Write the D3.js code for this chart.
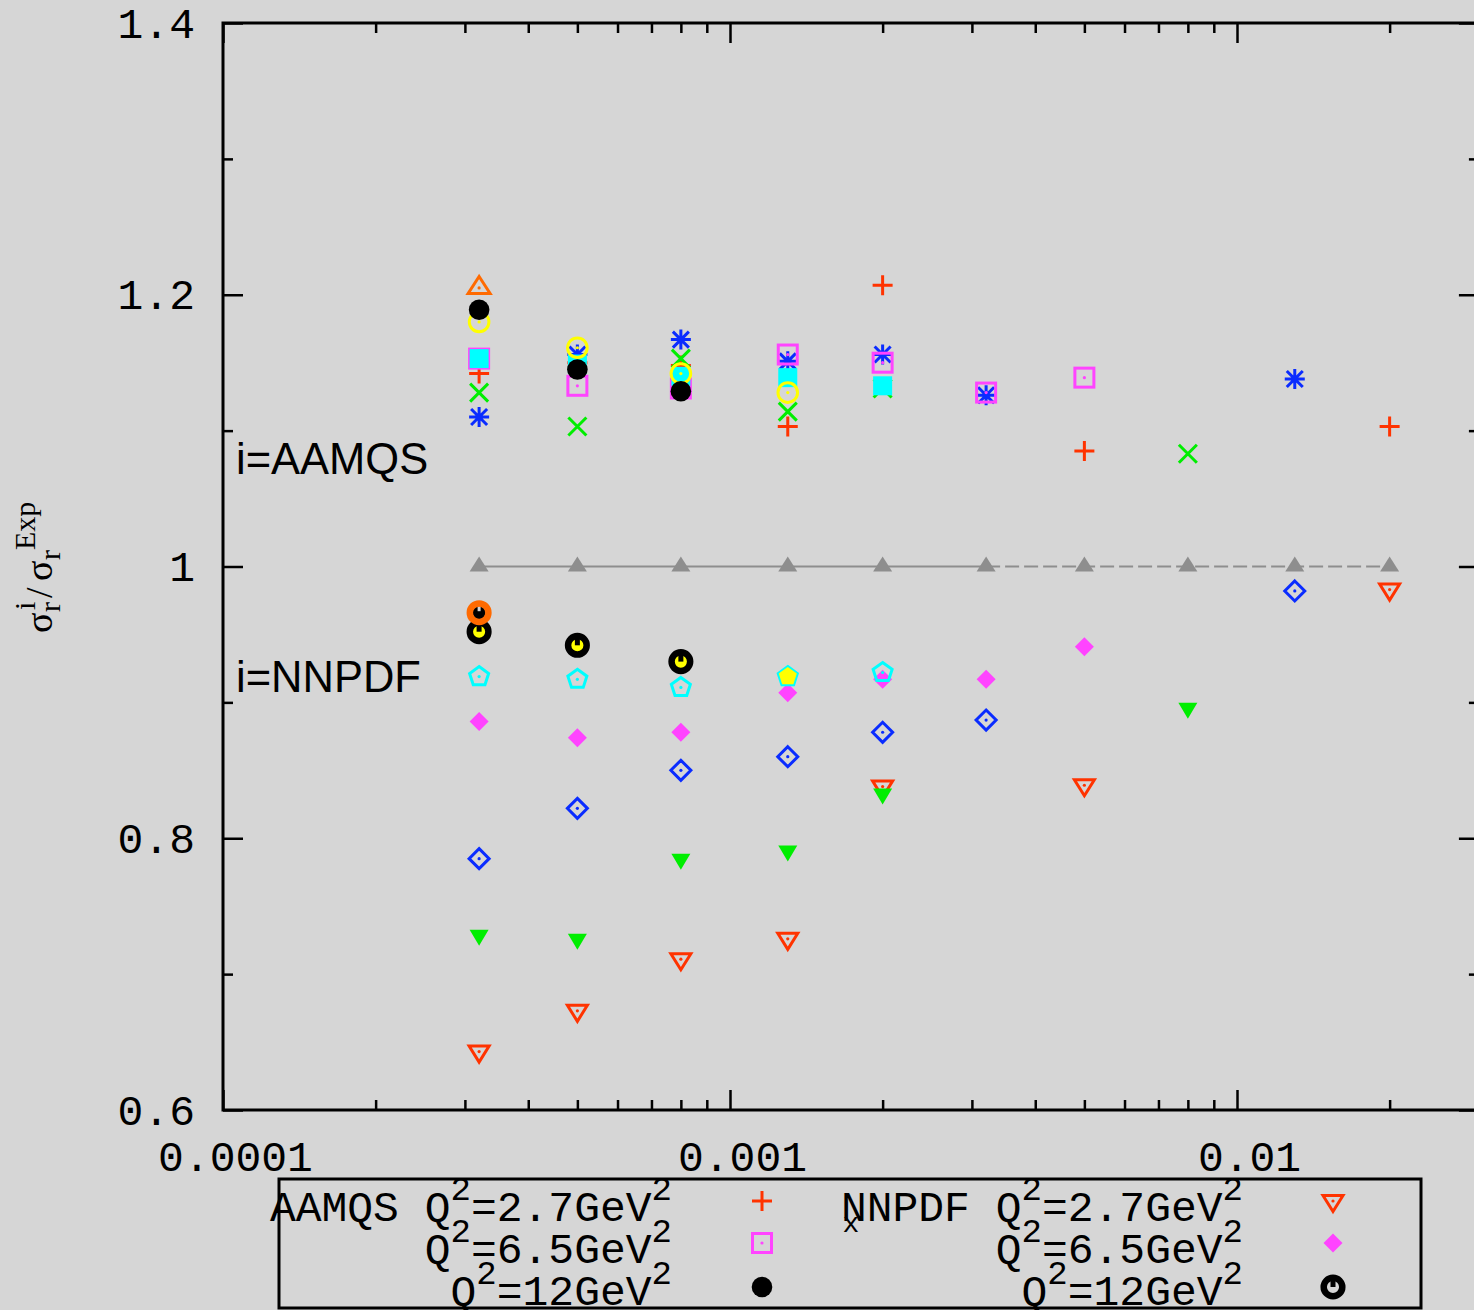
<!DOCTYPE html>
<html><head><meta charset="utf-8">
<script src="https://cdn.jsdelivr.net/npm/d3@7"></script>
<style>html,body{margin:0;padding:0;background:#d6d6d6;}svg{display:block;}</style>
</head><body>
<svg id="chart" width="1474" height="1310"></svg>
<script>
// ---------- data ----------
const xTickLabels = ["0.0001", "0.001", "0.01"];
const xMajorTicks = [0.0001, 0.001, 0.01];
const yTickLabels = ["0.6", "0.8", "1", "1.2", "1.4"];
const yMajorTicks = [0.6, 0.8, 1.0, 1.2, 1.4];
const yMinorTicks = [0.7, 0.9, 1.1, 1.3];

// AAMQS / Exp  (x, ratio)
const aamqsQ2_2p7 = [[0.00032,1.142],[0.0005,1.150],[0.0008,1.148],[0.0013,1.103],[0.002,1.207],[0.005,1.085],[0.02,1.103]];
const aamqsQ2_3p5 = [[0.00032,1.128],[0.0005,1.103],[0.0008,1.153],[0.0013,1.114],[0.002,1.131],[0.008,1.083]];
const aamqsQ2_4p5 = [[0.00032,1.110],[0.0005,1.156],[0.0008,1.167],[0.0013,1.151],[0.002,1.156],[0.0032,1.126],[0.013,1.138]];
const aamqsQ2_6p5 = [[0.00032,1.153],[0.0005,1.133],[0.0008,1.131],[0.0013,1.156],[0.002,1.150],[0.0032,1.128],[0.005,1.139]];
const aamqsQ2_8p5 = [[0.00032,1.153],[0.0005,1.149],[0.0008,1.140],[0.0013,1.139],[0.002,1.133]];
const aamqsQ2_10  = [[0.00032,1.180],[0.0005,1.161],[0.0008,1.142],[0.0013,1.128]];
const aamqsQ2_12  = [[0.00032,1.189],[0.0005,1.145],[0.0008,1.129]];
const aamqsQ2_15  = [[0.00032,1.205]];

// Exp / Exp reference line
const expRef = [[0.00032,1],[0.0005,1],[0.0008,1],[0.0013,1],[0.002,1],[0.0032,1],[0.005,1],[0.008,1],[0.013,1],[0.02,1]];

// NNPDF / Exp
const nnpdfQ2_2p7 = [[0.00032,0.643],[0.0005,0.673],[0.0008,0.711],[0.0013,0.726],[0.002,0.838],[0.005,0.839],[0.02,0.983]];
const nnpdfQ2_3p5 = [[0.00032,0.729],[0.0005,0.726],[0.0008,0.785],[0.0013,0.791],[0.002,0.833],[0.008,0.896]];
const nnpdfQ2_4p5 = [[0.00032,0.785],[0.0005,0.822],[0.0008,0.850],[0.0013,0.860],[0.002,0.878],[0.0032,0.887],[0.013,0.982]];
const nnpdfQ2_6p5 = [[0.00032,0.886],[0.0005,0.874],[0.0008,0.878],[0.0013,0.907],[0.002,0.917],[0.0032,0.917],[0.005,0.941]];
const nnpdfQ2_8p5 = [[0.00032,0.919],[0.0005,0.917],[0.0008,0.911],[0.0013,0.919],[0.002,0.922]];
const nnpdfQ2_10  = [[0.00032,0.952],[0.0005,0.942],[0.0008,0.930],[0.0013,0.919]];
const nnpdfQ2_12  = [[0.00032,0.952],[0.0005,0.942],[0.0008,0.930]];
const nnpdfQ2_15  = [[0.00032,0.966]];

const legendModels = ["AAMQS", "NNPDF"];
const legendQ2 = ["2.7", "6.5", "12"];

// ---------- styling ----------
const C = {red:"#ff3300", green:"#00ee00", blue:"#0a2cff", magenta:"#ff44ff", cyan:"#00ffff",
           yellow:"#ffff00", black:"#000000", orange:"#ff6a00", gray:"#8e8e8e"};

const svg = d3.select("#chart");
svg.append("rect").attr("width",1474).attr("height",1310).attr("fill","#d6d6d6");

const X0 = 223, Y0 = 23, Y1 = 1110;
const decade = 507;
const x = d3.scaleLog().domain([1e-4, 0.03]).range([X0, X0 + decade*Math.log10(300)]);
const y = d3.scaleLinear().domain([0.6, 1.4]).range([Y1, Y0]);
const XR = x.range()[1];

const monoFont = "'Liberation Mono', 'Courier New', monospace";

// minor x ticks
const xMinorTicks = [];
[1e-4,1e-3,1e-2].forEach(d => { for (let k=2;k<=9;k++){ const v=d*k; if (v<=0.03) xMinorTicks.push(v);} });

function styleAxis(g){
  g.select(".domain").remove();
  g.selectAll(".tick line").attr("stroke","#000").attr("stroke-width",2.5);
  g.selectAll(".tick text").attr("font-family",monoFont).attr("font-size",43).attr("fill","#000");
}
// left
svg.append("g").attr("transform",`translate(${X0},0)`)
  .call(d3.axisLeft(y).tickValues(yMajorTicks).tickSizeInner(-20).tickSizeOuter(0).tickPadding(28)
        .tickFormat((d,i)=>yTickLabels[i])).call(styleAxis)
  .selectAll(".tick text").attr("dy","0.33em");
svg.append("g").attr("transform",`translate(${X0},0)`)
  .call(d3.axisLeft(y).tickValues(yMinorTicks).tickSizeInner(-10).tickSizeOuter(0).tickFormat("")).call(styleAxis);
// right
svg.append("g").attr("transform",`translate(${XR},0)`)
  .call(d3.axisRight(y).tickValues(yMajorTicks).tickSizeInner(-20).tickSizeOuter(0).tickFormat("")).call(styleAxis);
svg.append("g").attr("transform",`translate(${XR},0)`)
  .call(d3.axisRight(y).tickValues(yMinorTicks).tickSizeInner(-10).tickSizeOuter(0).tickFormat("")).call(styleAxis);
// bottom
svg.append("g").attr("transform",`translate(0,${Y1})`)
  .call(d3.axisBottom(x).tickValues(xMajorTicks).tickSizeInner(-20).tickSizeOuter(0).tickPadding(30)
        .tickFormat((d,i)=>xTickLabels[i])).call(styleAxis)
  .selectAll(".tick text").attr("dx",12);
svg.append("g").attr("transform",`translate(0,${Y1})`)
  .call(d3.axisBottom(x).tickValues(xMinorTicks).tickSizeInner(-10).tickSizeOuter(0).tickFormat("")).call(styleAxis);
// top
svg.append("g").attr("transform",`translate(0,${Y0})`)
  .call(d3.axisTop(x).tickValues(xMajorTicks).tickSizeInner(-20).tickSizeOuter(0).tickFormat("")).call(styleAxis);
svg.append("g").attr("transform",`translate(0,${Y0})`)
  .call(d3.axisTop(x).tickValues(xMinorTicks).tickSizeInner(-10).tickSizeOuter(0).tickFormat("")).call(styleAxis);

// frame
svg.append("rect").attr("x",X0).attr("y",Y0).attr("width",XR-X0).attr("height",Y1-Y0)
  .attr("fill","none").attr("stroke","#000").attr("stroke-width",3);

// ---------- markers ----------
function pent(r){ return d3.range(5).map(k=>{const a=(-90+72*k)*Math.PI/180; return [r*Math.cos(a), r*Math.sin(a)];}); }
function poly(g, pts){ return g.append("polygon").attr("points", pts.map(p=>p.join(",")).join(" ")); }
function dot(g,color){ g.append("circle").attr("r",1.6).attr("fill",color); }
function marker(g, type, color){
  const sw = 3;
  const stroke = s => s.attr("fill","none").attr("stroke",color).attr("stroke-width",sw);
  switch(type){
    case "plus": stroke(g.append("path").attr("d","M-10,0H10M0,-10V10")); break;
    case "cross": stroke(g.append("path").attr("d","M-9,-9L9,9M-9,9L9,-9")); break;
    case "star": stroke(g.append("path").attr("d","M-10,0H10M0,-10V10M-8,-8L8,8M-8,8L8,-8")); break;
    case "osquare": stroke(g.append("rect").attr("x",-9.5).attr("y",-9.5).attr("width",19).attr("height",19)); dot(g,color); break;
    case "fsquare": g.append("rect").attr("x",-9.5).attr("y",-9.5).attr("width",19).attr("height",19).attr("fill",color); break;
    case "ocircle": stroke(g.append("circle").attr("r",9.8)); dot(g,color); break;
    case "fcircle": g.append("circle").attr("r",10.3).attr("fill",color); break;
    case "otri": stroke(poly(g,[[0,-11.5],[11,5.5],[-11,5.5]])).attr("stroke-linejoin","miter"); dot(g,color); break;
    case "ftri": poly(g,[[0,-10],[9.5,5],[-9.5,5]]).attr("fill",color); break;
    case "oitri": stroke(poly(g,[[-10,-5.5],[10,-5.5],[0,10.5]])); dot(g,color); break;
    case "fitri": poly(g,[[-9.5,-5],[9.5,-5],[0,11]]).attr("fill",color); break;
    case "odiam": stroke(poly(g,[[0,-10],[10,0],[0,10],[-10,0]])); dot(g,color); break;
    case "fdiam": poly(g,[[0,-9.5],[9.5,0],[0,9.5],[-9.5,0]]).attr("fill",color); break;
    case "opent": stroke(poly(g,pent(10))); dot(g,color); break;
    case "fpent": poly(g,pent(9.5)).attr("fill",color); break;
    case "ring":
      g.append("circle").attr("r",9.3).attr("fill","none").attr("stroke",color).attr("stroke-width",6.5);
      g.append("rect").attr("x",-2.5).attr("y",-7).attr("width",5).attr("height",7).attr("fill",color); break;
    case "oring":
      g.append("circle").attr("r",6.5).attr("fill","#000");
      g.append("rect").attr("x",-1.5).attr("y",-6.5).attr("width",3).attr("height",5).attr("fill","#d6d6d6");
      g.append("circle").attr("r",9.3).attr("fill","none").attr("stroke",color).attr("stroke-width",6.5); break;
  }
}

const series = [
  {data:aamqsQ2_2p7, type:"plus", color:C.red},
  {data:aamqsQ2_3p5, type:"cross", color:C.green},
  {data:aamqsQ2_4p5, type:"star", color:C.blue},
  {data:aamqsQ2_6p5, type:"osquare", color:C.magenta},
  {data:aamqsQ2_8p5, type:"fsquare", color:C.cyan},
  {data:aamqsQ2_10, type:"ocircle", color:C.yellow},
  {data:aamqsQ2_12, type:"fcircle", color:C.black},
  {data:aamqsQ2_15, type:"otri", color:C.orange},
  {data:expRef, type:"ftri", color:C.gray, line:true},
  {data:nnpdfQ2_2p7, type:"oitri", color:C.red},
  {data:nnpdfQ2_3p5, type:"fitri", color:C.green},
  {data:nnpdfQ2_4p5, type:"odiam", color:C.blue},
  {data:nnpdfQ2_6p5, type:"fdiam", color:C.magenta},
  {data:nnpdfQ2_8p5, type:"opent", color:C.cyan},
  {data:nnpdfQ2_10, type:"fpent", color:C.yellow},
  {data:nnpdfQ2_12, type:"ring", color:C.black},
  {data:nnpdfQ2_15, type:"oring", color:C.orange}
];

const line = d3.line().x(d=>x(d[0])).y(d=>y(d[1]));
series.forEach(s=>{
  if (s.line){
    const solid = s.data.filter(d=>d[0]<=0.0032);
    const dashed = s.data.filter(d=>d[0]>=0.0032);
    svg.append("path").attr("d",line(solid)).attr("fill","none").attr("stroke",s.color).attr("stroke-width",1.8);
    svg.append("path").attr("d",line(dashed)).attr("fill","none").attr("stroke",s.color).attr("stroke-width",1.8).attr("stroke-dasharray","14,5");
  }
  const g = svg.append("g");
  s.data.forEach(d=>{
    const m = g.append("g").attr("transform",`translate(${x(d[0])},${y(d[1])})`);
    marker(m, s.type, s.color);
  });
});

// in-plot labels
svg.append("text").attr("x",236).attr("y",474).attr("font-family","'Liberation Sans', Arial, sans-serif")
  .attr("font-size",43.5).attr("fill","#000").text("i=AAMQS");
svg.append("text").attr("x",236).attr("y",692).attr("font-family","'Liberation Sans', Arial, sans-serif")
  .attr("font-size",43.5).attr("fill","#000").text("i=NNPDF");

// y axis label
const yl = svg.append("g").attr("transform","translate(52,633) rotate(-90)")
  .attr("font-family","'Liberation Serif', 'Times New Roman', serif").attr("fill","#000");
yl.append("text").attr("x",0).attr("y",0).attr("font-size",38).text("σ");
yl.append("text").attr("x",21).attr("y",8).attr("font-size",30).text("r");
yl.append("text").attr("x",23).attr("y",-17).attr("font-size",30).text("i");
yl.append("text").attr("x",35).attr("y",0).attr("font-size",38).text("/");
yl.append("text").attr("x",52).attr("y",0).attr("font-size",38).text("σ");
yl.append("text").attr("x",73).attr("y",8).attr("font-size",30).text("r");
yl.append("text").attr("x",83).attr("y",-17).attr("font-size",30).text("Exp");

// x axis label (partly behind legend)
svg.append("text").attr("x",851).attr("y",1232).attr("text-anchor","middle")
  .attr("font-family",monoFont).attr("font-size",28).attr("fill","#000").text("x");

// ---------- legend ----------
svg.append("rect").attr("x",279).attr("y",1179).attr("width",1142).attr("height",129)
  .attr("fill","none").attr("stroke","#000").attr("stroke-width",3);
const legendCols = [
  {model:legendModels[0], textEnd:672, sx:762, types:[["plus",C.red],["osquare",C.magenta],["fcircle",C.black]]},
  {model:legendModels[1], textEnd:1243, sx:1333, types:[["oitri",C.red],["fdiam",C.magenta],["ring",C.black]]}
];
const rowBase = [1221, 1263, 1305];
const rowMark = [1201, 1243, 1287];
legendCols.forEach(col=>{
  legendQ2.forEach((q,i)=>{
    const t = svg.append("text").attr("x",col.textEnd).attr("y",rowBase[i]).attr("text-anchor","end")
      .attr("font-family",monoFont).attr("font-size",43).attr("fill","#000");
    t.append("tspan").text((i===0 ? col.model + " " : "") + "Q");
    t.append("tspan").attr("dy",-21).attr("font-size",34).text("2");
    t.append("tspan").attr("dy",21).text("=" + q + "GeV");
    t.append("tspan").attr("dy",-21).attr("font-size",34).text("2");
    const m = svg.append("g").attr("transform",`translate(${col.sx},${rowMark[i]})`);
    marker(m, col.types[i][0], col.types[i][1]);
  });
});
</script>
</body></html>
